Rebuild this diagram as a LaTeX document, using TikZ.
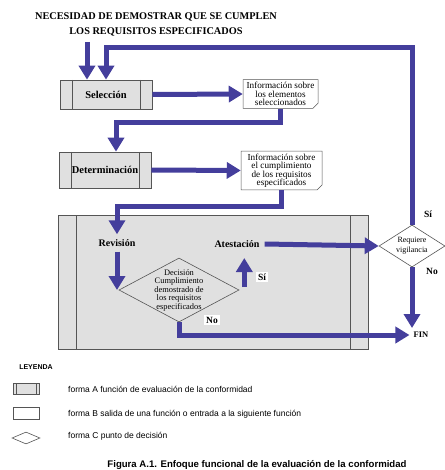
\documentclass[tikz,border=0pt]{standalone}
\usepackage{fontspec}
\setmainfont{Liberation Serif}
\setsansfont{Liberation Sans}
\usepackage{tikz}
\usetikzlibrary{arrows.meta, shapes.geometric, shapes.misc}
\definecolor{flowblue}{RGB}{68,62,156}
\definecolor{boxgray}{RGB}{85,85,85}
\definecolor{fillgray}{RGB}{224,224,224}
\tikzset{
  funcbox/.style={draw=boxgray, fill=fillgray, line width=0.7pt, inner sep=0pt,
    font=\bfseries\fontsize{10.5}{12}\selectfont,
    path picture={\draw[boxgray, line width=0.8pt]
      ([xshift=#1]path picture bounding box.north west) -- ([xshift=#1]path picture bounding box.south west)
      ([xshift=-#1]path picture bounding box.north east) -- ([xshift=-#1]path picture bounding box.south east);}},
  funcbox/.default=12pt,
  infobox/.style={chamfered rectangle, chamfered rectangle corners=south east,
    chamfered rectangle xsep=2.5pt, chamfered rectangle ysep=2.5pt,
    draw=boxgray, fill=white, line width=0.5pt, inner sep=0pt, align=center,
    font=\fontsize{9.2}{8.5}\selectfont},
  decision/.style={diamond, draw=boxgray, line width=0.6pt, inner sep=0pt},
  steplabel/.style={font=\bfseries\fontsize{10}{12}\selectfont, inner sep=5pt},
  answer/.style={font=\bfseries\fontsize{9.5}{11}\selectfont, inner sep=2pt},
  flow/.style={draw=flowblue, line width=5pt, line join=miter,
    -{Triangle[width=16pt,length=14pt]}},
  legendtext/.style={anchor=west, font=\sffamily\fontsize{8.5}{10}\selectfont, inner sep=0pt}
}
\begin{document}
\begin{tikzpicture}[x=1pt,y=-1pt]
\useasboundingbox (0,0) rectangle (444,470);

% title and first functions
\node[align=center, font=\bfseries\fontsize{10.3}{15}\selectfont] (title) at (156,24.5)
  {NECESIDAD DE DEMOSTRAR QUE SE CUMPLEN\\LOS REQUISITOS ESPECIFICADOS};
\coordinate (in1) at (87,42);
\node[funcbox, minimum width=92pt, minimum height=29pt] (sel) at (106,94.5) {Selección};
\node[infobox, minimum width=75pt, minimum height=24pt] (info1) at (280.5,94)
  {Información sobre\\los elementos\\seleccionados};
\node[funcbox, minimum width=92pt, minimum height=36pt] (det) at (105,170) {Determinación};
\node[infobox, minimum width=81pt, minimum height=37pt] (info2) at (281.5,170.5)
  {Información sobre\\el cumplimiento\\de los requisitos\\especificados};

% revision and attestation
\node[funcbox=18pt, minimum width=310pt, minimum height=134pt] (revbox) at (213,282) {};
\node[steplabel] (rev) at (117,243) {Revisión};
\node[steplabel] (ate) at (237,244) {Atestación};
\node[decision, fill=fillgray, minimum width=120pt, minimum height=64pt] (dec) at (179,290) {};
\node[align=center, inner sep=0pt, font=\fontsize{8.4}{8.5}\selectfont] (dect) at (dec.center)
  {Decisión\\Cumplimiento\\demostrado de\\los requisitos\\especificados};
\node[decision, fill=white, minimum width=66pt, minimum height=42pt] (vig) at (412,246) {};
\node[align=center, inner sep=0pt, font=\fontsize{8}{10}\selectfont] (vigt) at (vig.center)
  {Requiere\\vigilancia};
\node[answer, inner sep=4pt, font=\bfseries\fontsize{8.5}{10}\selectfont] (fin) at (421,335) {FIN};

% connectors
\draw[flow] (in1) -- (in1 |- sel.north);
\draw[flow] (vig.north) |- ([yshift=32pt]sel.north) -- (sel.north);
\draw[flow] (sel.east) -- (info1.west);
\draw[flow] (info1.south) |- ([xshift=11pt,yshift=29pt]det.north) -- ([xshift=11pt]det.north);
\draw[flow] (det.east) -- (info2.west);
\draw[flow] (info2.south) |- ([yshift=28pt]rev.north) -- (rev.north);
\draw[flow] (rev.south) -- (rev.south |- dec.west);
\draw[flow] ([xshift=5pt,yshift=3pt]dec.east) -- ([xshift=5pt,yshift=32pt]dec.east);
\draw[flow] (dec.south) |- (fin.west);
\draw[flow] (ate.east) -- (vig.west);
\draw[flow] (vig.south) -- (vig.south |- fin.north);

\node[answer, fill=white] (si1) at (262,277) {Sí};
\node[answer, fill=white] (no1) at (212,320) {No};
\node[answer] (si2) at (428,214) {Sí};
\node[answer] (no2) at (432,271) {No};

% legend
\node[font=\sffamily\bfseries\fontsize{7}{8}\selectfont, inner sep=0pt] (ley) at (36,367) {LEYENDA};
\node[funcbox=3pt, minimum width=26pt, minimum height=11pt] (legA) at (26,388.5) {};
\node[legendtext] (txtA) at (68,389) {forma A función de evaluación de la conformidad};
\node[infobox, minimum width=26pt, minimum height=12pt] (legB) at (26,413) {};
\node[legendtext] (txtB) at (68,414) {forma B salida de una función o entrada a la siguiente función};
\node[decision, fill=white, minimum width=28pt, minimum height=12pt] (legC) at (26,438) {};
\node[legendtext] (txtC) at (68,436) {forma C punto de decisión};
\node[font=\sffamily\bfseries\fontsize{9.6}{10}\selectfont] (caption) at (257,465)
  {Figura A.1. Enfoque funcional de la evaluación de la conformidad};
\end{tikzpicture}
\end{document}
